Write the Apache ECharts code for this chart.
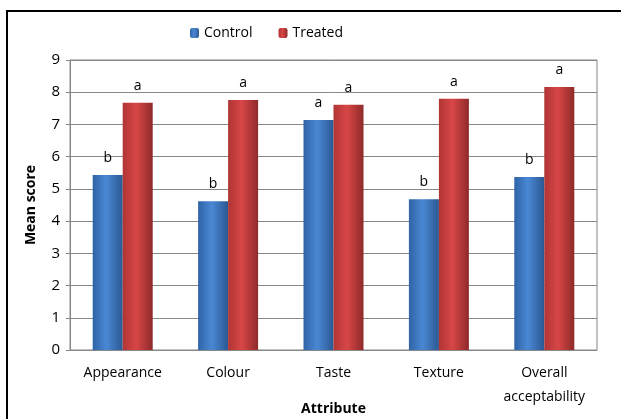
<!DOCTYPE html>
<html>
<head>
<meta charset="utf-8">
<script src="https://cdn.jsdelivr.net/npm/echarts@6/dist/echarts.min.js"></script>
<style>
html, body { margin: 0; padding: 0; background: #fff; }
#chart { width: 621px; height: 419px; }
</style>
</head>
<body>
<div id="chart"></div>
<script>
var attributes = ['Appearance', 'Colour', 'Taste', 'Texture', 'Overall\nacceptability'];
var controlScores = [5.43, 4.62, 7.14, 4.68, 5.37];
var treatedScores = [7.67, 7.76, 7.61, 7.80, 8.16];
var controlLetters = ['b', 'b', 'a', 'b', 'b'];
var treatedLetters = ['a', 'a', 'a', 'a', 'a'];
var yTicks = [0, 1, 2, 3, 4, 5, 6, 7, 8, 9];

var font = 'Open Sans';

function barColor(dark, mid, darker) {
    return new echarts.graphic.LinearGradient(0, 0, 1, 0, [
        { offset: 0, color: dark },
        { offset: 0.45, color: mid },
        { offset: 1, color: darker }
    ]);
}

var chart = echarts.init(document.getElementById('chart'));
var option = {
    animation: false,
    textStyle: { fontFamily: font },
    graphic: [{
        type: 'rect',
        shape: { x: 7, y: 11, width: 700, height: 500 },
        style: { fill: 'none', stroke: '#000', lineWidth: 2 }
    }],
    legend: {
        top: 21,
        left: 185,
        itemWidth: 9,
        itemHeight: 10,
        itemGap: 26,
        textStyle: { fontFamily: font, fontSize: 14, color: '#000' },
        data: ['Control', 'Treated']
    },
    grid: {
        left: 70,
        right: 24,
        top: 60,
        bottom: 69,
        outerBoundsMode: 'none',
        show: true,
        borderColor: '#888',
        borderWidth: 1
    },
    xAxis: {
        type: 'category',
        data: attributes,
        name: 'Attribute',
        nameLocation: 'middle',
        nameGap: 52,
        nameMoveOverlap: false,
        nameTextStyle: { fontFamily: font, fontSize: 14, fontWeight: 'bold', color: '#000' },
        axisLine: { lineStyle: { color: '#888' } },
        axisTick: { show: false },
        axisLabel: { interval: 0, fontFamily: font, fontSize: 14, color: '#000', margin: 11, lineHeight: 24 }
    },
    yAxis: {
        type: 'value',
        min: 0,
        max: 9,
        interval: 1,
        name: 'Mean score',
        nameLocation: 'middle',
        nameGap: 32,
        nameMoveOverlap: false,
        nameTextStyle: { fontFamily: font, fontSize: 14, fontWeight: 'bold', color: '#000' },
        axisLine: { show: true, lineStyle: { color: '#888' } },
        axisTick: { show: true, length: 4, lineStyle: { color: '#888' } },
        splitLine: { lineStyle: { color: '#888' } },
        axisLabel: {
            fontFamily: font, fontSize: 15, color: '#000', margin: 10,
            formatter: function (v) { return yTicks.indexOf(v) >= 0 ? String(v) : ''; }
        }
    },
    series: [
        {
            name: 'Control',
            type: 'bar',
            data: controlScores,
            barWidth: 30,
            barGap: '0%',
            itemStyle: { color: barColor('#2f63a6', '#4a88d4', '#2b5892') },
            label: {
                show: true,
                position: 'top',
                distance: 10,
                fontFamily: font,
                fontSize: 14,
                color: '#000',
                formatter: function (p) { return controlLetters[p.dataIndex]; }
            }
        },
        {
            name: 'Treated',
            type: 'bar',
            data: treatedScores,
            barWidth: 30,
            itemStyle: { color: barColor('#b03535', '#d84646', '#8f2a2a') },
            label: {
                show: true,
                position: 'top',
                distance: 10,
                fontFamily: font,
                fontSize: 14,
                color: '#000',
                formatter: function (p) { return treatedLetters[p.dataIndex]; }
            }
        }
    ]
};
chart.setOption(option);
</script>
</body>
</html>
